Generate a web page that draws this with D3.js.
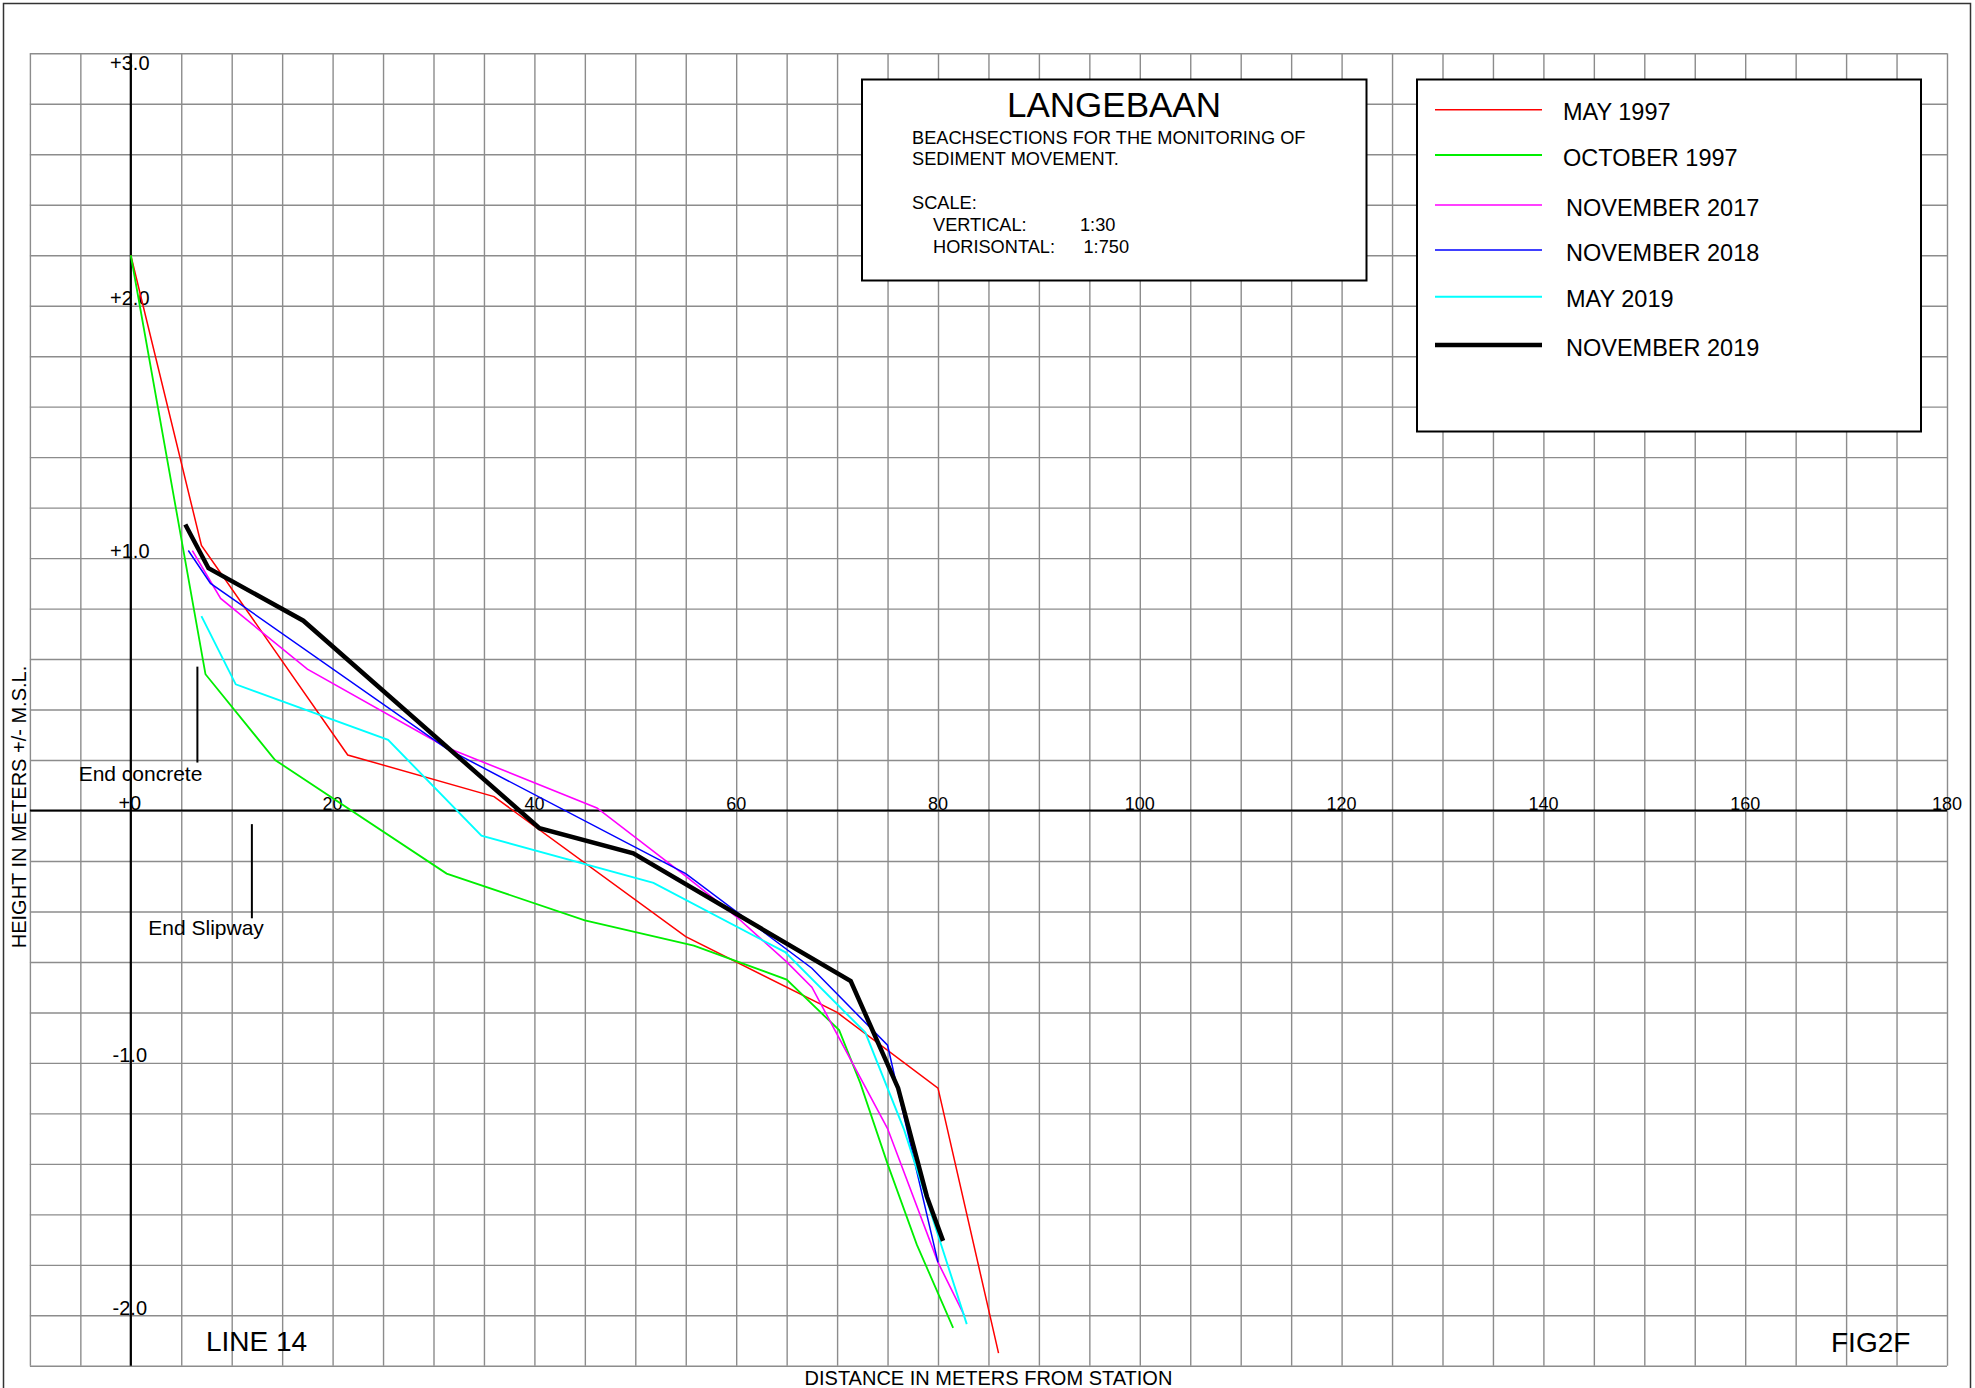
<!DOCTYPE html>
<html>
<head>
<meta charset="utf-8">
<title>Langebaan beach sections – Line 14</title>
<script src="https://cdn.jsdelivr.net/npm/d3@7"></script>
<style>
  html, body { margin: 0; padding: 0; background: #fff; }
  svg { display: block; font-family: "Liberation Sans", Arial, Helvetica, sans-serif; }
</style>
</head>
<body>
<svg id="chart" width="1975" height="1388"></svg>
<script>
// Survey profiles: [distance from station (m), height above M.S.L. (m)]
const may1997 = [[0, 2.2], [7, 1.05], [21.5, 0.22], [36, 0.055], [55, -0.5], [70, -0.8], [80, -1.1], [86, -2.15]];
const october1997 = [[0, 2.2], [7.4, 0.54], [14.3, 0.2], [31.3, -0.25], [45, -0.435], [55.8, -0.535], [65, -0.67], [70.2, -0.87], [72.3, -1.08], [75, -1.4], [77.9, -1.72], [81.5, -2.05]];
const november2017 = [[6.1, 1.03], [8.9, 0.84], [17.5, 0.56], [31.3, 0.25], [46.2, 0.01], [55, -0.26], [60, -0.42], [65, -0.6], [67.5, -0.7], [75, -1.26], [80, -1.79], [82.6, -2.0]];
const november2018 = [[5.7, 1.03], [7.9, 0.9], [31.3, 0.245], [55, -0.25], [67.5, -0.625], [75, -0.93], [75.8, -1.07], [80, -1.79]];
const may2019 = [[7, 0.77], [10.4, 0.5], [25.5, 0.28], [34.75, -0.1], [51.8, -0.287], [64.85, -0.561], [72.8, -0.88], [76.6, -1.26], [82.85, -2.035]];
const november2019 = [[5.4, 1.133], [7.7, 0.96], [17.1, 0.752], [40.5, -0.07], [49.8, -0.17], [71.35, -0.676], [76.05, -1.1], [78.9, -1.53], [80.5, -1.705]];

const surveyLabels = ["MAY 1997", "OCTOBER 1997", "NOVEMBER 2017", "NOVEMBER 2018", "MAY 2019", "NOVEMBER 2019"];
const surveyData = [may1997, october1997, november2017, november2018, may2019, november2019];
const surveyColors = ["#ff0000", "#00ee00", "#ff00ff", "#0000ff", "#00ffff", "#000000"];
const surveyWidths = [1.5, 1.8, 1.6, 1.5, 1.9, 4.5];

// Axis ticks
const xTickValues = [20, 40, 60, 80, 100, 120, 140, 160, 180];
const yTickValues = [3, 2, 1, 0, -1, -2];
const yTickLabels = ["+3.0", "+2.0", "+1.0", "+0", "-1.0", "-2.0"];

// Site markers along the profile: distance and height range of each marker line
const markerNames = ["End concrete", "End Slipway"];
const markerDistance = [6.6, 12];
const markerRange = [[0.19, 0.57], [-0.427, -0.054]];

const svg = d3.select("#chart");
const W = 1975, H = 1388;

svg.append("rect").attr("width", W).attr("height", H).attr("fill", "#fff");

// Drawing frame
svg.append("rect")
  .attr("x", 3.5).attr("y", 3.5)
  .attr("width", 1967).attr("height", 1400)
  .attr("fill", "none").attr("stroke", "#333").attr("stroke-width", 1.5);

const x = d3.scaleLinear().domain([-10, 180]).range([29.9, 1947]);
const y = d3.scaleLinear().domain([-2.2, 3.0]).range([1365.8, 53.3]);

// Grid: 5 m columns, 0.2 m rows
const gridX = d3.range(-10, 180.001, 5);
const gridY = d3.range(0, 27).map(i => +(-2.2 + i * 0.2).toFixed(2));

const grid = svg.append("g").attr("class", "grid");
grid.append("g")
  .attr("transform", `translate(0,${y(-2.2)})`)
  .call(d3.axisBottom(x).tickValues(gridX).tickSize(-(y(-2.2) - y(3))).tickFormat(""))
  .call(g => g.select(".domain").remove())
  .call(g => g.selectAll("line").attr("stroke", "#8c8c8c").attr("stroke-width", 1.4));
grid.append("g")
  .attr("transform", `translate(${x(-10)},0)`)
  .call(d3.axisLeft(y).tickValues(gridY).tickSize(-(x(180) - x(-10))).tickFormat(""))
  .call(g => g.select(".domain").remove())
  .call(g => g.selectAll("line").attr("stroke", "#8c8c8c").attr("stroke-width", 1.4));

// Main axes through the origin
svg.append("line")
  .attr("x1", x(-10)).attr("x2", x(180)).attr("y1", y(0)).attr("y2", y(0))
  .attr("stroke", "#000").attr("stroke-width", 2.2);
svg.append("line")
  .attr("x1", x(0)).attr("x2", x(0)).attr("y1", y(3)).attr("y2", y(-2.2))
  .attr("stroke", "#000").attr("stroke-width", 2.2);

// Distance labels sit on the horizontal axis
svg.append("g").selectAll("text")
  .data(xTickValues).join("text")
  .attr("x", d => x(d)).attr("y", y(0) - 1)
  .attr("text-anchor", "middle").attr("font-size", 18)
  .text(d => d);

// Height labels straddle the vertical axis
svg.append("g").selectAll("text")
  .data(yTickValues).join("text")
  .attr("x", x(0) - 1)
  .attr("y", d => d === 3 ? y(d) + 17 : y(d) - 0.5)
  .attr("text-anchor", "middle").attr("font-size", 20)
  .text((d, i) => yTickLabels[i]);

// Axis titles
svg.append("text")
  .attr("x", (x(-10) + x(180)) / 2).attr("y", 1385)
  .attr("text-anchor", "middle").attr("font-size", 20)
  .text("DISTANCE IN METERS FROM STATION");
svg.append("text")
  .attr("transform", `translate(26,807) rotate(-90)`)
  .attr("text-anchor", "middle").attr("font-size", 20)
  .text("HEIGHT IN METERS +/- M.S.L.");

// Marker lines with their captions
const markers = svg.append("g");
markerNames.forEach((name, i) => {
  const mx = x(markerDistance[i]);
  markers.append("line")
    .attr("x1", mx).attr("x2", mx)
    .attr("y1", y(markerRange[i][0])).attr("y2", y(markerRange[i][1]))
    .attr("stroke", "#000").attr("stroke-width", 2);
});
markers.append("text")
  .attr("x", x(markerDistance[0]) + 5).attr("y", y(markerRange[0][0]) + 18)
  .attr("text-anchor", "end").attr("font-size", 21)
  .text(markerNames[0]);
markers.append("text")
  .attr("x", x(markerDistance[1]) + 12).attr("y", y(markerRange[1][0]) + 17)
  .attr("text-anchor", "end").attr("font-size", 21)
  .text(markerNames[1]);

// Profiles
const line = d3.line().x(d => x(d[0])).y(d => y(d[1]));
svg.append("g").selectAll("path")
  .data(surveyData).join("path")
  .attr("d", line)
  .attr("fill", "none")
  .attr("stroke", (d, i) => surveyColors[i])
  .attr("stroke-width", (d, i) => surveyWidths[i])
  .attr("stroke-linejoin", "miter");

// Title block
const tb = svg.append("g").attr("font-size", 18.2);
tb.append("rect")
  .attr("x", 862).attr("y", 79.5).attr("width", 504.5).attr("height", 201)
  .attr("fill", "#fff").attr("stroke", "#000").attr("stroke-width", 2);
tb.append("text").attr("x", 1114).attr("y", 116.5).attr("text-anchor", "middle")
  .attr("font-size", 35).text("LANGEBAAN");
tb.append("text").attr("x", 912).attr("y", 143.5).text("BEACHSECTIONS FOR THE MONITORING OF");
tb.append("text").attr("x", 912).attr("y", 164.5).text("SEDIMENT MOVEMENT.");
tb.append("text").attr("x", 912).attr("y", 209).text("SCALE:");
tb.append("text").attr("x", 933).attr("y", 231).text("VERTICAL:");
tb.append("text").attr("x", 1080).attr("y", 231).text("1:30");
tb.append("text").attr("x", 933).attr("y", 252.5).text("HORISONTAL:");
tb.append("text").attr("x", 1083.5).attr("y", 252.5).text("1:750");

// Legend (row baselines follow the drawing's uneven spacing)
const legendRowY = [109.7, 155, 205, 250, 296.7, 345];
const lg = svg.append("g");
lg.append("rect")
  .attr("x", 1417).attr("y", 79.5).attr("width", 504).attr("height", 352)
  .attr("fill", "#fff").attr("stroke", "#000").attr("stroke-width", 2);
const legendRows = lg.selectAll("g.row")
  .data(surveyLabels).join("g").attr("class", "row")
  .attr("transform", (d, i) => `translate(0,${legendRowY[i]})`);
legendRows.append("line")
  .attr("x1", 1435).attr("x2", 1542).attr("y1", 0).attr("y2", 0)
  .attr("stroke", (d, i) => surveyColors[i])
  .attr("stroke-width", (d, i) => Math.max(surveyWidths[i], 1.6));
legendRows.append("text")
  .attr("x", (d, i) => i < 2 ? 1563 : 1566).attr("y", 10.5)
  .attr("font-size", 23.5)
  .text(d => d);

// Sheet labels
svg.append("text").attr("x", 206).attr("y", 1351).attr("font-size", 28).text("LINE 14");
svg.append("text").attr("x", 1831).attr("y", 1352).attr("font-size", 28).text("FIG2F");
</script>
</body>
</html>
